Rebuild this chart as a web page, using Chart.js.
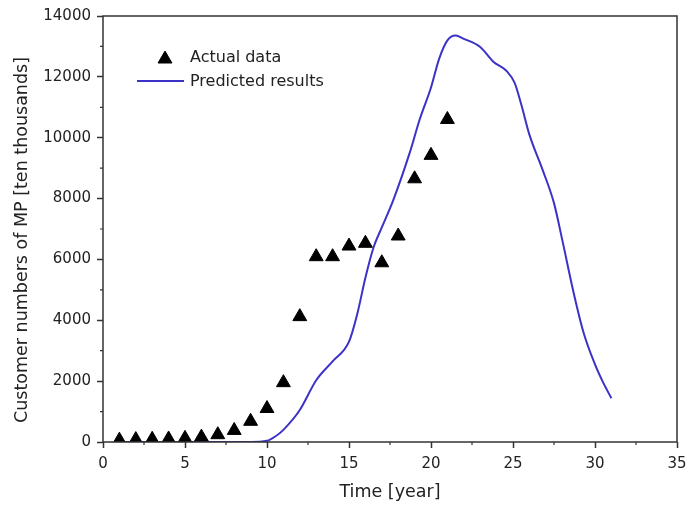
<!DOCTYPE html>
<html>
<head>
<meta charset="utf-8">
<script src="https://cdn.jsdelivr.net/npm/chart.js@4.4.1/dist/chart.umd.min.js"></script>
<style>
  html, body { margin: 0; padding: 0; background: #fff; }
</style>
</head>
<body>
<canvas id="chart" width="686" height="507"></canvas>
<script>
// Observed customers per year
const actualYears = [1, 2, 3, 4, 5, 6, 7, 8, 9, 10, 11, 12, 13, 14, 15, 16, 17, 18, 19, 20, 21];
const actualValues = [60, 80, 90, 100, 120, 160, 240, 380, 680, 1100, 1950, 4120, 6090, 6090, 6440, 6530, 5890, 6770, 8650, 9420, 10600];

// Model output
const predictedYears = [1, 3, 5, 7, 9, 10, 10.5, 11, 12, 13, 14, 15, 15.5, 16, 16.5, 17, 17.7, 18.7, 19.3, 20, 20.5, 21, 21.5, 22, 23, 23.8, 24.6, 25.1, 25.5, 26, 26.8, 27.5, 28, 28.7, 29.3, 30, 30.5, 31];
const predictedValues = [0, 0, 0, 0, 0, 40, 180, 400, 1050, 2030, 2650, 3300, 4200, 5400, 6400, 7050, 7950, 9500, 10580, 11650, 12600, 13200, 13360, 13250, 12980, 12500, 12200, 11800, 11100, 10100, 8950, 7850, 6650, 4900, 3600, 2550, 1950, 1440];

const xMinorTicks = [2.5, 7.5, 12.5, 17.5, 22.5, 27.5, 32.5];
const yMinorTicks = [1000, 3000, 5000, 7000, 9000, 11000, 13000];

const yTitle = 'Customer numbers of MP [ten thousands]';

const FONT = '"DejaVu Sans", sans-serif';
const TEXT = '#222';
const LINE_BLUE = '#3c32c8';

const toPoints = (xs, ys) => xs.map((x, i) => ({ x: x, y: ys[i] }));

// frame around the plot, minor ticks and the vertical axis title
const frame = {
    id: 'frame',
    afterDraw(chart) {
        const { ctx, chartArea: a, scales } = chart;
        ctx.save();
        ctx.strokeStyle = '#333';
        ctx.lineWidth = 1.5;
        ctx.strokeRect(a.left, a.top, a.right - a.left, a.bottom - a.top);
        ctx.lineWidth = 1.2;
        ctx.beginPath();
        xMinorTicks.forEach(v => {
            const px = scales.x.getPixelForValue(v);
            ctx.moveTo(px, a.bottom);
            ctx.lineTo(px, a.bottom + 3);
        });
        yMinorTicks.forEach(v => {
            const py = scales.y.getPixelForValue(v);
            ctx.moveTo(a.left, py);
            ctx.lineTo(a.left - 3, py);
        });
        ctx.stroke();

        ctx.translate(22, a.top + 224);
        ctx.rotate(-Math.PI / 2);
        ctx.fillStyle = TEXT;
        ctx.font = '17.5px ' + FONT;
        ctx.textAlign = 'center';
        ctx.textBaseline = 'middle';
        ctx.fillText(yTitle, 0, 0);
        ctx.restore();
    }
};

// legend sitting inside the plot, top left
const insideLegend = {
    id: 'insideLegend',
    afterDraw(chart) {
        const { ctx, chartArea: a } = chart;
        const ds = chart.data.datasets;
        ctx.save();
        ctx.fillStyle = '#000';
        ctx.strokeStyle = '#000';
        Chart.helpers.drawPoint(ctx, { pointStyle: 'triangle', radius: 8, borderWidth: 1, rotation: 0 }, a.left + 62, a.top + 43);
        ctx.strokeStyle = LINE_BLUE;
        ctx.lineWidth = 2;
        ctx.beginPath();
        ctx.moveTo(a.left + 34, a.top + 65);
        ctx.lineTo(a.left + 81, a.top + 65);
        ctx.stroke();
        ctx.fillStyle = TEXT;
        ctx.font = '16px ' + FONT;
        ctx.textBaseline = 'middle';
        ctx.fillText(ds[0].label, a.left + 87, a.top + 42);
        ctx.fillText(ds[1].label, a.left + 87, a.top + 66);
        ctx.restore();
    }
};

new Chart(document.getElementById('chart'), {
    type: 'scatter',
    data: {
        datasets: [{
            label: 'Actual data',
            data: toPoints(actualYears, actualValues),
            pointStyle: 'triangle',
            pointRadius: 8,
            pointBorderWidth: 1,
            backgroundColor: '#000',
            borderColor: '#000',
            showLine: false,
            order: 1
        }, {
            label: 'Predicted results',
            data: toPoints(predictedYears, predictedValues),
            showLine: true,
            pointRadius: 0,
            borderColor: LINE_BLUE,
            borderWidth: 2,
            cubicInterpolationMode: 'monotone',
            order: 2
        }]
    },
    options: {
        responsive: false,
        animation: false,
        layout: { padding: { top: 16, right: 9, left: 0, bottom: 0 } },
        plugins: {
            legend: { display: false },
            tooltip: { enabled: false }
        },
        scales: {
            x: {
                type: 'linear',
                min: 0,
                max: 35,
                afterFit(scale) {
                    scale.height = 65;
                    scale.paddingLeft = 0;
                    scale.paddingRight = 0;
                },
                ticks: { stepSize: 5, color: TEXT, padding: 7, font: { family: FONT, size: 15 } },
                grid: { drawOnChartArea: false, tickLength: 6, tickColor: '#333', tickWidth: 1.5 },
                border: { display: false },
                title: {
                    display: true,
                    text: 'Time [year]',
                    color: TEXT,
                    font: { family: FONT, size: 17.5 },
                    padding: { top: 0, bottom: 4 }
                }
            },
            y: {
                min: 0,
                max: 14000,
                afterFit(scale) {
                    scale.width = 103;
                },
                ticks: {
                    stepSize: 2000,
                    color: TEXT,
                    padding: 6,
                    font: { family: FONT, size: 15 },
                    callback: v => String(v)
                },
                grid: { drawOnChartArea: false, tickLength: 6, tickColor: '#333', tickWidth: 1.5 },
                border: { display: false }
            }
        }
    },
    plugins: [frame, insideLegend]
});
</script>
</body>
</html>
